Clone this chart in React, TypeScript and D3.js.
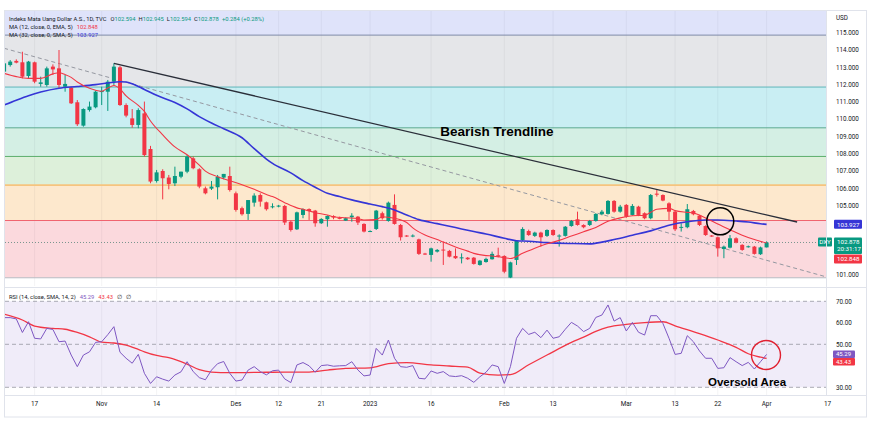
import React from "react";
import * as d3 from "d3";

// ---------- DATA ----------
const firstDay = "2022-10-10";
const lastDay = "2023-04-22";
const anchorDay = "2022-10-17";

// daily candles, weekdays from 2022-10-10 to 2023-04-03
const openVals = [
  112.75, 113.13, 113.37, 113.29, 112.5,
  113.29, 112.04, 111.98, 113.04, 112.94, 111.88, 111.83, 110.98, 109.63, 110.53,
  110.69, 111.57, 111.59, 112.17, 113.0, 110.82, 110.05, 109.67, 110.34, 108.28,
  106.43, 107.01, 106.63, 106.3, 106.68, 106.97, 107.74, 107.11, 106.01, 105.99,
  106.07, 106.63, 106.72, 105.72, 104.86, 104.53, 105.18, 105.62, 105.2, 104.93,
  104.97, 104.99, 104.08, 103.64, 104.47, 104.81, 104.72, 103.99, 104.22, 104.41,
  104.3, 104.14, 104.34, 104.37, 103.95, 103.52, 103.66, 104.57, 104.12, 105.05,
  103.89, 103.28, 103.24, 103.06, 102.24, 102.16, 102.35, 102.47, 102.39, 102.1,
  101.98, 102.0, 102.0, 101.58, 101.75, 101.91, 102.14, 102.1, 100.85, 101.87,
  103.02, 103.54, 103.26, 103.45, 103.26, 103.6, 103.24, 103.26, 103.83, 104.22,
  103.89, 103.89, 104.12, 104.51, 104.53, 105.28, 104.66, 105.05, 104.47, 104.95,
  104.57, 104.28, 105.7, 105.62, 105.14, 104.66, 103.74, 103.76, 104.7, 104.43,
  103.83, 103.28, 103.18, 102.5, 102.58, 103.12, 102.74, 102.62, 102.64, 102.2,
  102.594,
];
const highVals = [
  113.33, 113.42, 113.46, 113.9, 113.37,
  113.33, 112.46, 113.04, 113.17, 114.0, 112.56, 111.88, 111.11, 110.63, 111.02,
  111.65, 111.88, 112.27, 113.23, 113.08, 110.92, 110.59, 110.63, 111.02, 108.46,
  107.07, 107.11, 106.78, 107.26, 106.97, 107.93, 107.84, 107.17, 106.11, 106.43,
  106.78, 106.84, 107.26, 105.82, 104.95, 105.33, 105.72, 105.72, 105.24, 105.14,
  105.05, 105.05, 104.14, 104.66, 104.85, 104.85, 104.76, 104.28, 104.45, 104.45,
  104.37, 104.32, 104.57, 104.41, 103.99, 103.58, 104.76, 104.66, 105.24, 105.66,
  103.95, 103.31, 103.35, 103.1, 102.28, 102.58, 102.5, 102.93, 102.45, 102.54,
  102.25, 102.04, 102.04, 101.87, 102.0, 102.35, 102.58, 102.14, 101.77, 103.02,
  103.76, 103.62, 103.5, 103.5, 103.64, 103.64, 103.35, 103.83, 104.18, 104.66,
  103.93, 104.18, 104.57, 104.76, 105.33, 105.33, 105.05, 105.1, 105.1, 105.0,
  104.62, 105.68, 105.91, 105.66, 105.2, 104.7, 103.99, 105.1, 104.76, 104.47,
  103.87, 103.31, 103.22, 102.7, 103.31, 103.18, 102.78, 102.7, 102.68, 102.64,
  102.945,
];
const lowVals = [
  112.65, 113.04, 113.23, 112.36, 112.36,
  112.08, 111.88, 111.88, 112.56, 111.79, 111.59, 110.88, 109.61, 109.57, 110.44,
  110.63, 110.82, 110.48, 111.98, 110.77, 110.11, 109.51, 109.48, 107.84, 106.3,
  106.34, 105.37, 105.95, 106.14, 106.59, 106.88, 107.11, 106.01, 105.66, 105.91,
  105.37, 106.53, 105.82, 104.66, 104.43, 104.18, 104.95, 104.95, 104.72, 104.85,
  104.91, 103.89, 103.51, 103.6, 104.28, 104.18, 103.79, 103.95, 103.79, 104.22,
  104.22, 104.12, 104.08, 103.89, 103.46, 103.5, 103.6, 104.2, 104.08, 103.91,
  102.99, 103.2, 103.18, 102.16, 102.16, 101.77, 102.3, 101.58, 102.02, 101.93,
  101.67, 101.87, 101.6, 101.54, 101.71, 101.89, 102.02, 101.1, 100.82, 101.58,
  102.97, 103.26, 103.2, 102.64, 103.2, 103.26, 102.64, 103.22, 103.79, 103.85,
  103.7, 103.83, 104.08, 104.45, 104.49, 104.6, 104.6, 104.3, 104.43, 104.4,
  104.22, 104.22, 105.53, 105.26, 104.18, 103.54, 103.51, 103.7, 104.45, 103.83,
  103.26, 103.2, 102.06, 101.97, 102.54, 102.83, 102.4, 102.58, 102.18, 102.16,
  102.594,
];
const closeVals = [
  113.23, 113.33, 113.27, 112.46, 113.33,
  112.17, 112.13, 112.94, 112.88, 111.98, 112.04, 110.92, 109.71, 110.59, 110.73,
  111.59, 111.63, 112.17, 113.04, 110.82, 110.21, 109.67, 110.53, 107.93, 106.4,
  106.93, 106.59, 106.26, 106.72, 106.97, 107.84, 107.17, 106.11, 105.72, 106.11,
  106.68, 106.84, 105.91, 104.76, 104.51, 105.33, 105.59, 105.24, 104.8, 104.97,
  105.01, 104.03, 103.6, 104.62, 104.81, 104.7, 103.99, 104.24, 104.41, 104.32,
  104.28, 104.28, 104.43, 104.03, 103.51, 103.54, 104.72, 104.28, 105.18, 103.95,
  103.18, 103.24, 103.28, 102.22, 102.2, 102.54, 102.45, 102.43, 102.06, 101.97,
  102.02, 101.91, 101.64, 101.83, 101.93, 102.22, 102.06, 101.19, 101.73, 102.99,
  103.66, 103.31, 103.45, 103.18, 103.6, 103.31, 103.28, 103.79, 104.12, 103.89,
  103.76, 104.12, 104.53, 104.66, 105.28, 104.66, 104.95, 104.37, 104.99, 104.47,
  104.28, 105.62, 105.64, 105.3, 104.66, 103.64, 103.78, 104.8, 104.51, 103.89,
  103.31, 103.24, 102.54, 102.64, 103.12, 102.87, 102.45, 102.66, 102.22, 102.594,
  102.878,
];
// RSI(14), one value per candle
const rsiVals = [
  62.4, 62.4, 61.8, 55.5, 60.5,
  52.8, 52.5, 57.4, 56.9, 51.2, 51.5, 45.0, 39.6, 45.0, 46.5,
  50.9, 51.2, 54.5, 58.2, 46.3, 43.5, 41.2, 45.3, 36.5, 31.8,
  34.9, 33.8, 32.9, 35.7, 37.2, 41.9, 37.3, 34.5, 33.5, 38.0,
  41.0, 42.0, 36.5, 32.9, 33.4, 38.0, 39.6, 37.3, 35.8, 37.7,
  38.0, 33.9, 32.2, 40.4, 41.5, 40.0, 37.0, 40.1, 40.4, 39.8,
  40.0, 40.1, 41.9, 38.05, 35.3, 35.7, 48.1, 45.0, 52.0, 43.5,
  39.6, 39.3, 40.1, 34.2, 33.9, 37.6, 36.5, 37.3, 35.3, 35.0,
  35.4, 34.2, 32.3, 34.9, 37.0, 40.4, 39.6, 31.8, 39.6, 52.8,
  57.4, 54.6, 55.6, 53.1, 56.6, 52.8, 53.5, 57.0, 60.2, 58.5,
  55.9, 57.4, 62.5, 63.6, 68.3, 60.8, 62.4, 56.2, 60.2, 55.6,
  54.3, 63.3, 63.3, 59.7, 52.8, 45.3, 45.8, 54.0, 51.2, 46.9,
  43.5, 43.5, 38.8, 39.1, 43.8, 41.9, 40.1, 41.6, 38.5, 41.9,
  45.29,
];

// moving averages (bar number counted from 2022-10-17)
const emaBars = [-5, -3, -1, 1, 3, 4, 5, 6, 7, 9, 11, 12, 13, 14, 15, 17, 18, 19, 21, 23, 25, 27, 28, 30, 32, 34, 36, 38, 39, 41, 43, 44, 46, 48, 49, 51, 53, 54, 56, 57, 59, 61, 62, 64, 66, 67, 69, 71, 72, 74, 75, 77, 78, 80, 82, 84, 86, 88, 90, 92, 94, 96, 98, 100, 101, 102, 104, 105, 107, 108, 110, 112, 114, 116, 118, 120];
const emaVals = [112.65, 112.46, 112.36, 112.36, 112.62, 112.69, 112.58, 112.42, 112.15, 111.79, 111.62, 111.8, 111.95, 111.75, 111.35, 110.8, 110.45, 109.9, 109.1, 108.4, 107.95, 107.35, 107.0, 106.68, 106.45, 106.22, 105.95, 105.65, 105.53, 105.18, 104.88, 104.8, 104.6, 104.47, 104.37, 104.31, 104.26, 104.18, 104.2, 104.37, 104.28, 104.03, 103.72, 103.31, 103.05, 102.9, 102.62, 102.38, 102.25, 102.12, 102.1, 102.0, 101.95, 102.25, 102.55, 102.8, 103.0, 103.25, 103.5, 103.75, 104.1, 104.3, 104.42, 104.45, 104.62, 104.8, 104.85, 104.72, 104.62, 104.58, 104.3, 103.95, 103.62, 103.3, 103.05, 102.848];
const smaBars = [-5, -3, -1, 1, 4, 7, 10, 12, 14, 15, 16, 18, 20, 23, 25, 27, 29, 31, 34, 36, 38, 39, 42, 44, 46, 48, 50, 52, 55, 57, 59, 61, 63, 66, 68, 70, 72, 74, 77, 79, 81, 84, 88, 91, 93, 95, 98, 101, 104, 107, 110, 112, 115, 117, 119, 120];
const smaVals = [110.82, 111.1, 111.36, 111.57, 111.79, 111.89, 112.0, 112.09, 112.17, 112.15, 112.05, 111.72, 111.38, 110.97, 110.6, 110.15, 109.78, 109.45, 108.93, 108.3, 107.7, 107.45, 106.9, 106.45, 106.07, 105.72, 105.53, 105.34, 105.1, 104.95, 104.76, 104.47, 104.2, 103.97, 103.82, 103.66, 103.51, 103.37, 103.12, 102.98, 102.95, 102.87, 102.82, 102.8, 102.9, 103.05, 103.3, 103.55, 103.88, 104.08, 104.18, 104.18, 104.12, 104.06, 103.96, 103.927];
const rsiMaBars = [-5, -2, 0, 3, 5, 7, 9, 11, 13, 15, 17, 18, 20, 22, 25, 27, 29, 32, 36, 41, 45, 48, 51, 55, 58, 61, 65, 68, 71, 73, 76, 78, 81, 84, 88, 90, 92, 94, 97, 100, 103, 105, 109, 112, 115, 117, 119, 120];
const rsiMaVals = [64.0, 61.3, 58.5, 57.4, 57.0, 55.5, 53.5, 51.0, 50.6, 49.6, 47.6, 46.5, 44.8, 43.8, 40.8, 38.2, 37.1, 36.8, 36.9, 37.1, 37.1, 38.0, 38.8, 39.0, 41.0, 41.5, 40.4, 39.9, 39.4, 36.6, 35.7, 35.9, 40.5, 45.0, 50.9, 53.3, 56.0, 58.0, 59.3, 60.1, 60.5, 58.6, 55.0, 52.0, 48.6, 45.6, 44.0, 43.43];

const tickDates = ["2022-10-17", "2022-11-01", "2022-11-14", "2022-12-01", "2022-12-12", "2022-12-21", "2023-01-02", "2023-01-16", "2023-02-01", "2023-02-13", "2023-03-01", "2023-03-13", "2023-03-22", "2023-04-03", "2023-04-17"];
const tickLabels = ["17", "Nov", "14", "Des", "12", "21", "2023", "16", "Feb", "13", "Mar", "13", "22", "Apr", "17"];
const priceTicks = [101, 102, 103, 104, 105, 106, 107, 108, 109, 110, 111, 112, 113, 114, 115];
const rsiTicks = [70, 60, 50, 40, 30];
const rsiGuides = [70, 50, 30];

const fibLow = 100.84;
const fibHigh = 114.86;
const fibRatios = [0, 0.236, 0.382, 0.5, 0.618, 0.786, 1];

const trendBars = [13, 125];
const trendPrices = [113.23, 104.06];
const dashBars = [-5, 130];
const dashPrices = [114.1, 100.87];
const crossBar = 112.4;
const crossPrice = 104.1;
const rsiCircleBar = 119.9;
const rsiCircleVal = 45.0;
const bearishLabel = { bar: 75.8, price: 109.03, text: "Bearish Trendline" };
const oversoldLabel = { bar: 116.8, value: 30.6, text: "Oversold Area" };

// ---------- STYLE ----------
const UP = "#089981";
const DOWN = "#f23645";
const SMA_COLOR = "#3535d6";
const RSI_COLOR = "#7e57c2";
const bandFills = ["#fbd9dd", "#fde8cd", "#ddf0da", "#d4efe4", "#c9eef3", "#e5e6e9"];
const levelColors = ["#b9bcc4", "#f0646f", "#f6c47e", "#5cae6c", "#5aa88f", "#5db6bb", "#7f8aa8"];
const FONT = "Roboto, 'Liberation Sans', Arial, sans-serif";

export default function App() {
  const parse = d3.timeParse("%Y-%m-%d");
  const days = d3
    .timeDay.range(parse(firstDay)!, parse(lastDay)!)
    .filter((d) => d.getDay() !== 0 && d.getDay() !== 6);
  const base = days.findIndex((d) => +d === +parse(anchorDay)!);
  const n = closeVals.length;
  const bars = d3.range(n).map((j) => j - base);
  const barOf = (s: string) => days.findIndex((d) => +d === +parse(s)!) - base;

  const L = 5, R = 826, mainTop = 11, mainBottom = 286, rsiTop = 289, rsiBottom = 395, axisBottom = 417;

  const x = d3.scaleLinear().domain([bars[0], bars[n - 1]]).range([4.1, 766.6]);
  const y = d3.scaleLinear().domain([101, 115]).range([275, 32.7]);
  const yr = d3.scaleLinear().domain([30, 70]).range([387.3, 301.3]);

  const fibPrice = (r: number) => fibLow + (fibHigh - fibLow) * r;
  const lineP = d3.line<[number, number]>().x((d) => x(d[0])).y((d) => y(d[1])).curve(d3.curveMonotoneX);
  const lineR = d3.line<[number, number]>().x((d) => x(d[0])).y((d) => yr(d[1]));
  const lineRS = d3.line<[number, number]>().x((d) => x(d[0])).y((d) => yr(d[1])).curve(d3.curveMonotoneX);

  const emaPath = lineP(emaBars.map((b, k) => [b, emaVals[k]]))!;
  const smaPath = lineP(smaBars.map((b, k) => [b, smaVals[k]]))!;
  const rsiPath = lineR(bars.map((b, k) => [b, rsiVals[k]]))!;
  const rsiMaPath = lineRS(rsiMaBars.map((b, k) => [b, rsiMaVals[k]]))!;

  const last = n - 1;
  const lastClose = closeVals[last];
  const prevClose = closeVals[last - 1];
  const chg = lastClose - prevClose;
  const fmt3 = d3.format(".3f");
  const fmt2 = d3.format(".2f");
  const emaLast = emaVals[emaVals.length - 1];
  const smaLast = smaVals[smaVals.length - 1];
  const rsiLast = rsiVals[last];
  const rsiMaLast = rsiMaVals[rsiMaVals.length - 1];

  const ticks = tickDates.map((d, k) => ({ bar: barOf(d), label: tickLabels[k] }));

  // price tags
  const tagX = 834, tagW = 28;
  const smaTagY = y(smaLast);
  const priceTagTop = y(lastClose) - 5;
  const priceTagH = 16.5;
  const emaTagTop = priceTagTop + priceTagH + 0.5;
  const tagZones: [number, number][] = [
    [smaTagY - 5, smaTagY + 5],
    [priceTagTop, priceTagTop + priceTagH],
    [emaTagTop, emaTagTop + 9],
  ];
  const visiblePriceTicks = priceTicks.filter((p) => {
    const py = y(p);
    return !tagZones.some(([a, b]) => py > a - 4 && py < b + 4);
  });
  const rsiTagTop = yr(rsiLast) - 4;
  const rsiTagH = 7.5;
  const rsiTag2Top = rsiTagTop + rsiTagH;
  const visibleRsiTicks = rsiTicks.filter((v) => {
    const py = yr(v);
    return !(py > rsiTagTop - 3 && py < rsiTag2Top + rsiTagH + 3);
  });

  const bw = 4;

  return (
    <svg
      width={870}
      height={426}
      viewBox="0 0 870 426"
      style={{ position: "fixed", left: 0, top: 0, display: "block" }}
      fontFamily={FONT}
    >
      <defs>
        <clipPath id="mainClip">
          <rect x={L} y={mainTop} width={R - L} height={mainBottom - mainTop} />
        </clipPath>
        <clipPath id="rsiClip">
          <rect x={L} y={rsiTop} width={R - L} height={rsiBottom - rsiTop} />
        </clipPath>
      </defs>
      <rect x={0} y={0} width={870} height={426} fill="#ffffff" />

      {/* ---------- MAIN PANE ---------- */}
      <g clipPath="url(#mainClip)">
        <rect x={L} y={mainTop} width={R - L} height={y(fibHigh) - mainTop} fill="#dfe3fa" />
        {fibRatios.slice(0, -1).map((r, k) => {
          const top = y(fibPrice(fibRatios[k + 1]));
          const bot = y(fibPrice(r));
          return <rect key={"band" + k} x={L} y={top} width={R - L} height={bot - top} fill={bandFills[k]} />;
        })}
        {ticks.map((t, k) => (
          <line key={"vg" + k} x1={x(t.bar)} x2={x(t.bar)} y1={mainTop} y2={mainBottom} stroke="rgba(42,46,57,0.05)" strokeWidth={1} />
        ))}
        {fibRatios.map((r, k) => (
          <line
            key={"lvl" + k}
            x1={L}
            x2={R}
            y1={y(fibPrice(r))}
            y2={y(fibPrice(r))}
            stroke={levelColors[k]}
            strokeWidth={r === 0.382 ? 1.6 : 1}
          />
        ))}
        <line
          x1={x(dashBars[0])}
          y1={y(dashPrices[0])}
          x2={x(dashBars[1])}
          y2={y(dashPrices[1])}
          stroke="#9598a1"
          strokeWidth={1}
          strokeDasharray="4,3"
        />
        <line x1={L} x2={R} y1={y(lastClose)} y2={y(lastClose)} stroke="#7a958e" strokeWidth={1} strokeDasharray="1,2" />

        {bars.map((b, k) => {
          const o = openVals[k], c = closeVals[k], h = highVals[k], l = lowVals[k];
          const col = c >= o ? UP : DOWN;
          const top = y(Math.max(o, c));
          const bh = Math.max(1, y(Math.min(o, c)) - top);
          return (
            <g key={"c" + k}>
              <line x1={x(b)} x2={x(b)} y1={y(h)} y2={y(l)} stroke={col} strokeWidth={1} />
              <rect x={x(b) - bw / 2} y={top} width={bw} height={bh} fill={col} />
            </g>
          );
        })}

        <path d={smaPath} fill="none" stroke={SMA_COLOR} strokeWidth={1.6} />
        <path d={emaPath} fill="none" stroke={DOWN} strokeWidth={1.1} />

        <line
          x1={x(trendBars[0])}
          y1={y(trendPrices[0])}
          x2={x(trendBars[1])}
          y2={y(trendPrices[1])}
          stroke="#2a2e39"
          strokeWidth={1.4}
        />
        <circle cx={x(crossBar)} cy={y(crossPrice)} r={13.5} fill="none" stroke="#000" strokeWidth={1.5} />
        <text
          x={x(bearishLabel.bar)}
          y={y(bearishLabel.price)}
          textAnchor="middle"
          fontFamily="'Liberation Sans', Arial, sans-serif"
          fontWeight="bold"
          fontSize={13.5}
          fill="#000"
        >
          {bearishLabel.text}
        </text>
      </g>

      {/* legend */}
      <g fontSize={5.8}>
        <text x={9} y={20.5} fill="#131722">
          <tspan>Indeks Mata Uang Dollar A.S., 1D, TVC</tspan>
          <tspan dx={4}>O</tspan>
          <tspan fill={UP}>{fmt3(openVals[last])}</tspan>
          <tspan dx={3}>H</tspan>
          <tspan fill={UP}>{fmt3(highVals[last])}</tspan>
          <tspan dx={3}>L</tspan>
          <tspan fill={UP}>{fmt3(lowVals[last])}</tspan>
          <tspan dx={3}>C</tspan>
          <tspan fill={UP}>{fmt3(lastClose)}</tspan>
          <tspan dx={3} fill={UP}>
            {(chg >= 0 ? "+" : "") + fmt3(chg) + " (" + (chg >= 0 ? "+" : "") + fmt2((chg / prevClose) * 100) + "%)"}
          </tspan>
        </text>
        <text x={9} y={29} fill="#131722">
          <tspan>MA (12, close, 0, EMA, 5)</tspan>
          <tspan dx={4} fill={DOWN}>{fmt3(emaLast)}</tspan>
        </text>
        <text x={9} y={37} fill="#131722">
          <tspan>MA (32, close, 0, SMA, 5)</tspan>
          <tspan dx={4} fill={SMA_COLOR}>{fmt3(smaLast)}</tspan>
        </text>
      </g>

      {/* right price axis */}
      <g fontSize={6.3} fill="#131722">
        <text x={836} y={20}>USD</text>
        {visiblePriceTicks.map((p) => (
          <text key={"pt" + p} x={836} y={y(p) + 2.2}>
            {fmt3(p)}
          </text>
        ))}
      </g>
      <g fontSize={6.2} fill="#fff">
        <rect x={tagX} y={smaTagY - 4.5} width={tagW} height={9} fill={SMA_COLOR} rx={1} />
        <text x={tagX + 3} y={smaTagY + 2.2}>{fmt3(smaLast)}</text>

        <rect x={818} y={priceTagTop} width={14} height={9} fill={UP} rx={1} />
        <text x={825} y={priceTagTop + 6.6} textAnchor="middle">DXY</text>
        <rect x={tagX} y={priceTagTop} width={tagW} height={priceTagH} fill={UP} rx={1} />
        <text x={tagX + 3} y={priceTagTop + 6.6}>{fmt3(lastClose)}</text>
        <text x={tagX + 3} y={priceTagTop + 13.8}>20:31:17</text>

        <rect x={tagX} y={emaTagTop} width={tagW} height={9} fill={DOWN} rx={1} />
        <text x={tagX + 3} y={emaTagTop + 6.7}>{fmt3(emaLast)}</text>
      </g>

      {/* pane separator */}
      <line x1={L} x2={866} y1={287.5} y2={287.5} stroke="#e0e3eb" strokeWidth={1} />

      {/* ---------- RSI PANE ---------- */}
      <g clipPath="url(#rsiClip)">
        <rect x={L} y={yr(70)} width={R - L} height={yr(30) - yr(70)} fill="#f0ecf9" />
        {ticks.map((t, k) => (
          <line key={"vr" + k} x1={x(t.bar)} x2={x(t.bar)} y1={rsiTop} y2={rsiBottom} stroke="rgba(42,46,57,0.05)" strokeWidth={1} />
        ))}
        {rsiGuides.map((v) => (
          <line key={"g" + v} x1={L} x2={R} y1={yr(v)} y2={yr(v)} stroke="#9598a1" strokeWidth={0.8} strokeDasharray="4,3" />
        ))}
        <path d={rsiMaPath} fill="none" stroke={DOWN} strokeWidth={1.3} />
        <path d={rsiPath} fill="none" stroke={RSI_COLOR} strokeWidth={1} />
        <circle cx={x(rsiCircleBar)} cy={yr(rsiCircleVal)} r={14.5} fill="none" stroke="#e02030" strokeWidth={1.4} />
        <text
          x={x(oversoldLabel.bar)}
          y={yr(oversoldLabel.value)}
          textAnchor="middle"
          fontFamily="'Liberation Sans', Arial, sans-serif"
          fontWeight="bold"
          fontSize={11.5}
          fill="#000"
        >
          {oversoldLabel.text}
        </text>
      </g>
      <text x={9} y={299} fontSize={5.8} fill="#131722">
        <tspan>RSI (14, close, SMA, 14, 2)</tspan>
        <tspan dx={4} fill={RSI_COLOR}>{fmt2(rsiLast)}</tspan>
        <tspan dx={4} fill={DOWN}>{fmt2(rsiMaLast)}</tspan>
        <tspan dx={4}>∅</tspan>
        <tspan dx={4}>∅</tspan>
      </text>
      <g fontSize={6.3} fill="#131722">
        {visibleRsiTicks.map((v) => (
          <text key={"rt" + v} x={836} y={yr(v) + 2.2}>
            {fmt2(v)}
          </text>
        ))}
      </g>
      <g fontSize={6} fill="#fff">
        <rect x={833} y={rsiTagTop} width={22} height={rsiTagH} fill={RSI_COLOR} rx={1} />
        <text x={836} y={rsiTagTop + 5.6}>{fmt2(rsiLast)}</text>
        <rect x={833} y={rsiTag2Top} width={22} height={rsiTagH} fill={DOWN} rx={1} />
        <text x={836} y={rsiTag2Top + 5.6}>{fmt2(rsiMaLast)}</text>
      </g>

      {/* ---------- TIME AXIS ---------- */}
      <line x1={L} x2={866} y1={395.5} y2={395.5} stroke="#e0e3eb" strokeWidth={1} />
      <g fontSize={6.4} fill="#131722" textAnchor="middle">
        {ticks.map((t, k) => (
          <text key={"tl" + k} x={x(t.bar)} y={406}>
            {t.label}
          </text>
        ))}
      </g>

      {/* frame */}
      <line x1={R + 0.5} x2={R + 0.5} y1={mainTop} y2={rsiBottom} stroke="#e0e3eb" strokeWidth={1} />
      <rect x={4.5} y={10.5} width={862} height={axisBottom - 10.5} fill="none" stroke="#e0e3eb" strokeWidth={1} />
    </svg>
  );
}
